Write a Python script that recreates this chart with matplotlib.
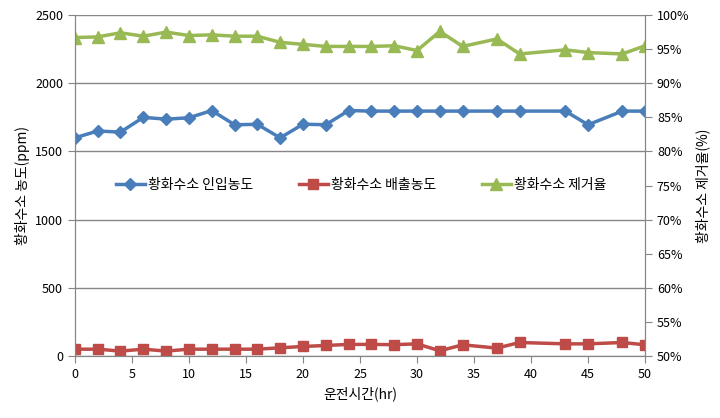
import matplotlib.pyplot as plt
from matplotlib.ticker import FuncFormatter

plt.rcParams['font.family'] = ['Noto Sans CJK KR', 'DejaVu Sans']
plt.rcParams['font.size'] = 9

hours = [0, 2, 4, 6, 8, 10, 12, 14, 16, 18, 20, 22, 24, 26, 28, 30, 32, 34, 37, 39, 43, 45, 48, 50]
inlet = [1600, 1650, 1642, 1750, 1737, 1747, 1800, 1696, 1699, 1600, 1700, 1696,
         1800, 1796, 1796, 1796, 1796, 1796, 1796, 1796, 1796, 1696, 1796, 1796]
outlet = [51, 51, 37, 51, 37, 51, 51, 51, 51, 61, 71, 78,
          86, 86, 84, 90, 39, 83, 59, 100, 90, 90, 100, 83]
removal = [96.7, 96.8, 97.4, 96.9, 97.5, 97.0, 97.1, 96.9, 96.9, 96.0, 95.7, 95.4,
           95.4, 95.4, 95.5, 94.8, 97.6, 95.4, 96.5, 94.3, 94.9, 94.5, 94.3, 95.5]

blue = '#4A7EBB'
red = '#BE4B48'
green = '#98B954'
grid_c = '#868686'

fig, ax = plt.subplots(figsize=(7.2, 4.18), dpi=100)
fig.subplots_adjust(left=0.104, right=0.896, top=0.964, bottom=0.148)
ax2 = ax.twinx()

l1, = ax.plot(hours, inlet, color=blue, lw=2.5, marker='D', ms=6, label='황화수소 인입농도')
l2, = ax.plot(hours, outlet, color=red, lw=2.5, marker='s', ms=7.5, label='황화수소 배출농도')
l3, = ax2.plot(hours, removal, color=green, lw=2.5, marker='^', ms=8.5, label='황화수소 제거율')

ax.set_xlim(0, 50)
ax.set_ylim(0, 2500)
ax.set_xticks(range(0, 51, 5))
ax.set_yticks(range(0, 2501, 500))
ax2.set_ylim(50, 100)
ax2.set_yticks(range(50, 101, 5))
ax2.yaxis.set_major_formatter(FuncFormatter(lambda v, p: f'{v:.0f}%'))

ax.yaxis.grid(True, color=grid_c, lw=1)
ax.set_axisbelow(True)

for a in (ax, ax2):
    a.spines['top'].set_visible(False)
    for s in ('left', 'right', 'bottom'):
        a.spines[s].set_color(grid_c)
    a.tick_params(colors=grid_c, labelcolor='black', length=5, direction='out')

ax.set_xlabel('운전시간(hr)', fontsize=10)
ax.set_ylabel('황화수소 농도(ppm)', fontsize=10)
ax2.set_ylabel('황화수소 제거율(%)', fontsize=10)

ax.legend(handles=[l1, l2, l3], loc='upper left', bbox_to_anchor=(0.05, 0.56),
          ncol=3, frameon=False, handlelength=2.1, columnspacing=3.3,
          handletextpad=0.2, fontsize=10)

plt.savefig('out.png', dpi=100)
plt.close()
